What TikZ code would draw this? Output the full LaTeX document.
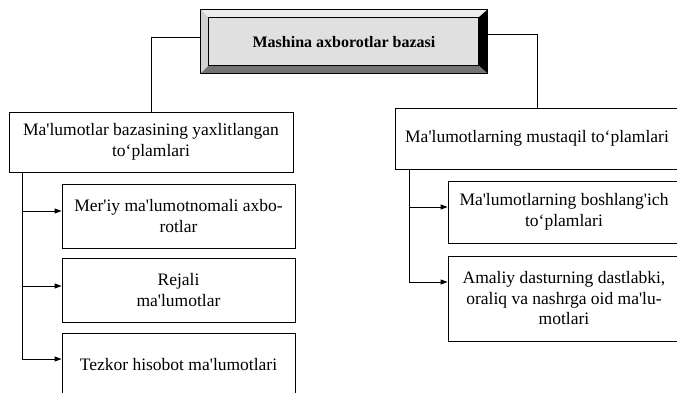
\documentclass[tikz,border=0pt]{standalone}
\usepackage{fontspec}
\setmainfont{Liberation Serif}
\usetikzlibrary{arrows.meta,calc}
\definecolor{bevelLight}{gray}{0.93}
\definecolor{bevelSide}{gray}{0.82}
\definecolor{bevelLow}{gray}{0.45}
\definecolor{bevelFace}{gray}{0.88}
\newcommand{\apo}{\textquotesingle}

\begin{document}
\begin{tikzpicture}[x=1pt, y=-1pt,
    bx/.style={rectangle, draw, line width=0.9pt, align=center, inner sep=0pt,
               font=\fontsize{17.5}{20.5}\selectfont},
    ln/.style={line width=0.9pt},
    arr/.style={line width=0.9pt, -{Triangle[length=7pt,width=5pt]}}
  ]
  \useasboundingbox (0,0) rectangle (677,393);

  % bevelled title box
  \node[rectangle, minimum width=286pt, minimum height=63pt, inner sep=0pt]
    (mab) at (344,41.5) {};
  \fill[bevelLight] (mab.north west) -- (mab.north east) -- ($(mab.north east)+(-9,8)$)
    -- ($(mab.north west)+(8,8)$) -- cycle;
  \fill[bevelSide] (mab.north west) -- ($(mab.north west)+(8,8)$)
    -- ($(mab.south west)+(8,-8)$) -- (mab.south west) -- cycle;
  \fill[black] (mab.north east) -- ($(mab.north east)+(-9,8)$)
    -- ($(mab.south east)+(-9,-8)$) -- (mab.south east) -- cycle;
  \fill[bevelLow] (mab.south west) -- ($(mab.south west)+(8,-8)$)
    -- ($(mab.south east)+(-9,-8)$) -- (mab.south east) -- cycle;
  \draw[line width=0.7pt, fill=bevelFace] ($(mab.north west)+(8,8)$) rectangle ($(mab.south east)+(-9,-8)$);
  \draw[line width=0.9pt] (mab.north west) rectangle (mab.south east);
  \node[font=\fontsize{16}{19}\selectfont\bfseries] (mabtext) at ($(mab.center)+(0,1)$) {Mashina axborotlar bazasi};

  % left branch
  \node[bx, minimum width=284pt, minimum height=60pt] (yax) at (151,142)
    {Ma\apo lumotlar bazasining yaxlitlangan\\to‘plamlari};
  \node[bx, minimum width=233pt, minimum height=64pt] (y1) at (178.5,216)
    {Mer\apo iy ma\apo lumotnomali axbo-\\rotlar};
  \node[bx, minimum width=233pt, minimum height=64pt] (y2) at (178.5,290)
    {Rejali\\ma\apo lumotlar};
  \node[bx, minimum width=233pt, minimum height=64pt] (y3) at (178.5,365)
    {Tezkor hisobot ma\apo lumotlari};

  % right branch
  \node[bx, minimum width=284pt, minimum height=61pt] (mus) at (537,138.5)
    {Ma\apo lumotlarning mustaqil to‘plamlari};
  \node[bx, minimum width=232pt, minimum height=62pt] (m1) at (564,212)
    {Ma\apo lumotlarning boshlang\apo ich\\to‘plamlari};
  \node[bx, minimum width=232pt, minimum height=85pt] (m2) at (564,298.5)
    {Amaliy dasturning dastlabki,\\oraliq va nashrga oid ma\apo lu-\\motlari};

  \draw[ln] ([yshift=4.5pt]mab.west) -| (yax.north);
  \draw[ln] ([yshift=7.5pt]mab.east) -| (mus.north);

  \draw[arr] ([xshift=14pt]yax.south west) |- ([yshift=5pt]y1.west);
  \draw[arr] ([xshift=14pt]yax.south west) |- ([yshift=4pt]y2.west);
  \draw[arr] ([xshift=14pt]yax.south west) |- ([yshift=6pt]y3.west);

  \draw[arr] ([xshift=15pt]mus.south west) |- ([yshift=5pt]m1.west);
  \draw[arr] ([xshift=15pt]mus.south west) |- ([yshift=16.5pt]m2.west);
\end{tikzpicture}
\end{document}
